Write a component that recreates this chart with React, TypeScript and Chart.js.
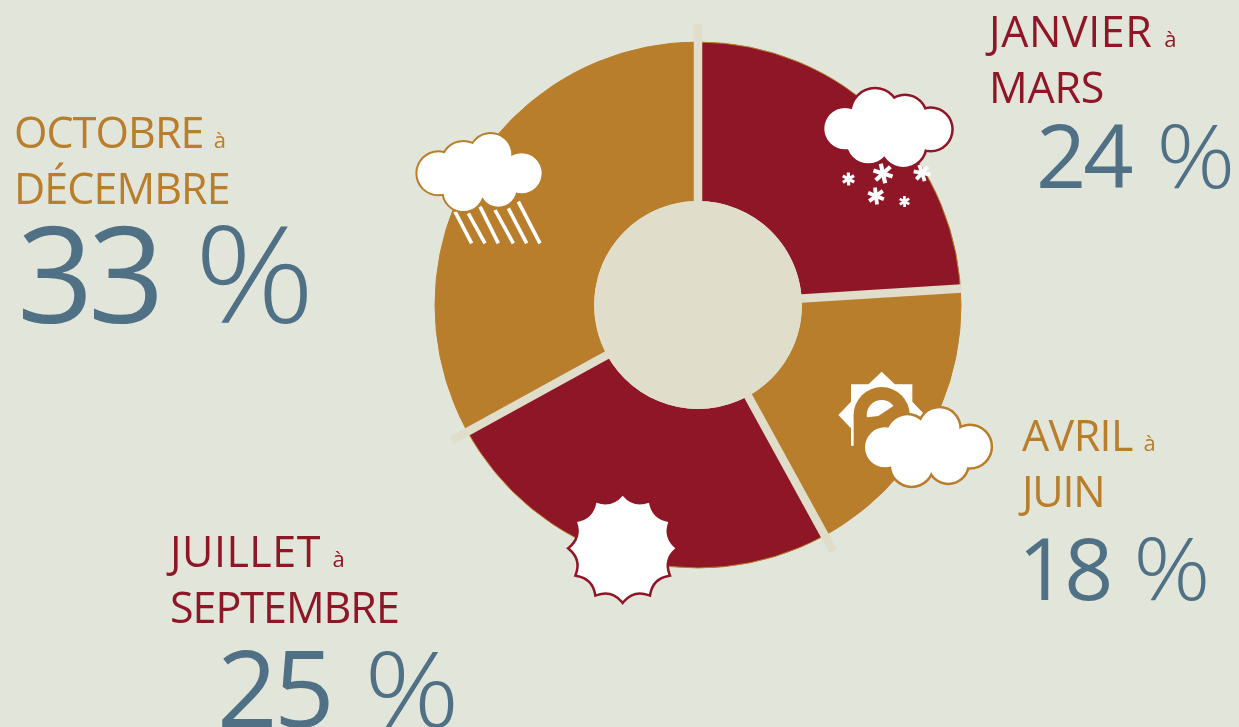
import React, { useEffect, useRef } from "react";
import { Chart, registerables } from "chart.js";

Chart.register(...registerables);

// Share of the year per quarter, clockwise from twelve o'clock
const periods = ["JANVIER à MARS", "AVRIL à JUIN", "JUILLET à SEPTEMBRE", "OCTOBRE à DÉCEMBRE"];
const shares = [24, 18, 25, 33];

const firstWords = ["JANVIER", "AVRIL", "JUILLET", "OCTOBRE"];
const secondWords = ["MARS", "JUIN", "SEPTEMBRE", "DÉCEMBRE"];

const RED = "#8f1626";
const GOLD = "#b87e2b";
const SLATE = "#4f7085";
const PAGE = "#e2e5da";
const CREAM = "#e0ddcb";

const sliceColors = [RED, GOLD, RED, GOLD];
const FONT = '"Open Sans", sans-serif';

// Label block placement per slice, in page pixels
const blocks = [
  { x: 989, y: 6, size: 43, color: RED, track: 0.6, track2: -0.2, pctX: 1036, pctY: 102, pctSize: 88, pctGap: -3, wordGap: 5 },
  { x: 1022, y: 410, size: 43, color: GOLD, track: -0.6, track2: -1.2, pctX: 1018, pctY: 515, pctSize: 86, pctGap: -3, wordGap: 3 },
  { x: 170, y: 526, size: 43, color: RED, track: 0.5, track2: -1, pctX: 217, pctY: 623, pctSize: 106, pctGap: -3.5, wordGap: 9 },
  { x: 14, y: 107, size: 43, color: GOLD, track: -0.9, track2: -0.9, pctX: 17, pctY: 191, pctSize: 134, pctGap: -5.5, wordGap: 5 },
];

type Ctx = CanvasRenderingContext2D;
type Lobe = [number, number, number];

// A cloud is a union of circles: an outer stroke first, white fill on top
function cloud(ctx: Ctx, ox: number, oy: number, lobes: Lobe[], edge: string, lw: number) {
  const trace = (extra: number) => {
    ctx.beginPath();
    for (const [x, y, r] of lobes) {
      const cx = ox + x / 3;
      const cy = oy + y / 3;
      ctx.moveTo(cx + r / 3 + extra, cy);
      ctx.arc(cx, cy, r / 3 + extra, 0, Math.PI * 2);
    }
  };
  ctx.fillStyle = edge;
  trace(lw);
  ctx.fill();
  ctx.fillStyle = "#fff";
  trace(0);
  ctx.fill();
}

function asterisk(ctx: Ctx, x: number, y: number, r: number, w: number, turn: number) {
  ctx.save();
  ctx.strokeStyle = "#fff";
  ctx.lineWidth = w;
  for (let i = 0; i < 3; i++) {
    const a = turn + (i * Math.PI) / 3;
    ctx.beginPath();
    ctx.moveTo(x - Math.cos(a) * r, y - Math.sin(a) * r);
    ctx.lineTo(x + Math.cos(a) * r, y + Math.sin(a) * r);
    ctx.stroke();
  }
  ctx.restore();
}

function drawSnow(ctx: Ctx) {
  cloud(ctx, 800, 70, [[135, 176, 62], [225, 128, 70], [315, 140, 62], [392, 178, 62], [205, 215, 65], [310, 225, 66], [265, 170, 80]], RED, 2.5);
  asterisk(ctx, 848.5, 179, 6.5, 3.2, 0.5);
  asterisk(ctx, 883, 173.5, 10, 4.2, 0.3);
  asterisk(ctx, 922, 173, 8.5, 3.8, 0.2);
  asterisk(ctx, 876, 196, 8.5, 3.8, 0.4);
  asterisk(ctx, 904.5, 201.5, 5.5, 2.8, 0.5);
}

function drawRain(ctx: Ctx) {
  const drops = [
    [165, 275, 215, 370],
    [205, 280, 255, 370],
    [240, 260, 295, 370],
    [285, 270, 340, 370],
    [325, 265, 380, 370],
    [355, 245, 420, 370],
  ];
  ctx.save();
  ctx.strokeStyle = "#fff";
  ctx.lineWidth = 3.6;
  for (const [a, b, c, d] of drops) {
    ctx.beginPath();
    ctx.moveTo(400 + a / 3, 120 + b / 3);
    ctx.lineTo(400 + c / 3, 120 + d / 3);
    ctx.stroke();
  }
  ctx.restore();
  cloud(ctx, 400, 120, [[115, 160, 63], [190, 130, 64], [272, 104, 62], [365, 160, 60], [190, 213, 60], [295, 205, 55], [260, 160, 70]], GOLD, 2);
}

function drawSunCloud(ctx: Ctx) {
  const cx = 820 + 185 / 3;
  const cy = 360 + 165 / 3;
  const half = 92 / 3;
  const tip = 130 / 3;
  ctx.fillStyle = "#fff";
  ctx.beginPath();
  ctx.moveTo(cx, cy - tip);
  ctx.lineTo(cx + half * 0.43, cy - half);
  ctx.lineTo(cx + half, cy - half);
  ctx.lineTo(cx + half, cy - half * 0.43);
  ctx.lineTo(cx + tip, cy);
  ctx.lineTo(cx + half, cy + half * 0.43);
  ctx.lineTo(cx + half, cy + half);
  ctx.lineTo(cx - half, cy + half);
  ctx.lineTo(cx - half, cy + half * 0.43);
  ctx.lineTo(cx - tip, cy);
  ctx.lineTo(cx - half, cy - half * 0.43);
  ctx.lineTo(cx - half, cy - half);
  ctx.lineTo(cx - half * 0.43, cy - half);
  ctx.closePath();
  ctx.fill();
  ctx.fillStyle = GOLD;
  ctx.beginPath();
  ctx.arc(cx, cy, 84 / 3, 0, Math.PI * 2);
  ctx.fill();
  ctx.fillRect(cx - 28, cy, 56, 36);
  ctx.fillStyle = "#fff";
  ctx.beginPath();
  ctx.arc(cx, cy, 45 / 3, 0, Math.PI * 2);
  ctx.fill();
  // The ring's lower band bites into the white core
  ctx.fillStyle = GOLD;
  ctx.beginPath();
  ctx.moveTo(820 + 130 / 3, 360 + 173 / 3);
  ctx.lineTo(820 + 175 / 3, 360 + 168 / 3);
  ctx.lineTo(820 + 228 / 3, 360 + 133 / 3);
  ctx.lineTo(820 + 240 / 3, 360 + 210 / 3);
  ctx.lineTo(820 + 130 / 3, 360 + 210 / 3);
  ctx.closePath();
  ctx.fill();
  cloud(ctx, 820, 360, [[195, 262, 60], [262, 228, 62], [358, 205, 60], [450, 260, 62], [275, 315, 62], [385, 310, 58], [330, 260, 75]], GOLD, 2.5);
}

function drawBurst(ctx: Ctx) {
  const cx = 555 + 203 / 3;
  const cy = 480 + 205 / 3;
  const tip = 158 / 3;
  const dip = 124 / 3;
  const n = 12;
  ctx.beginPath();
  for (let i = 0; i < n; i++) {
    const a = -Math.PI / 2 + (i * 2 * Math.PI) / n;
    const m = a + Math.PI / n;
    const b = a + (2 * Math.PI) / n;
    if (i === 0) ctx.moveTo(cx + Math.cos(a) * tip, cy + Math.sin(a) * tip);
    ctx.quadraticCurveTo(cx + Math.cos(m) * dip, cy + Math.sin(m) * dip, cx + Math.cos(b) * tip, cy + Math.sin(b) * tip);
  }
  ctx.closePath();
  ctx.strokeStyle = RED;
  ctx.lineWidth = 5;
  ctx.lineJoin = "miter";
  ctx.stroke();
  ctx.fillStyle = "#fff";
  ctx.fill();
}

// Separators run along each slice boundary and overshoot the rim; the hole sits on top
const ringDecor = {
  id: "ringDecor",
  afterDatasetsDraw(chart: any) {
    const ctx: Ctx = chart.ctx;
    const arcs = chart.getDatasetMeta(0).data;
    const { x, y, outerRadius, innerRadius } = arcs[0];
    ctx.save();
    ctx.strokeStyle = GOLD;
    ctx.lineWidth = 1;
    ctx.beginPath();
    ctx.arc(x, y, outerRadius, 0, Math.PI * 2);
    ctx.stroke();
    ctx.strokeStyle = CREAM;
    ctx.lineWidth = 8.5;
    arcs.forEach((arc: any, i: number) => {
      const a = arc.startAngle;
      const over = i === 1 ? 1 : 18;
      ctx.beginPath();
      ctx.moveTo(x + Math.cos(a) * (innerRadius - 4), y + Math.sin(a) * (innerRadius - 4));
      ctx.lineTo(x + Math.cos(a) * (outerRadius + over), y + Math.sin(a) * (outerRadius + over));
      ctx.stroke();
    });
    ctx.fillStyle = CREAM;
    ctx.beginPath();
    ctx.arc(x, y, innerRadius, 0, Math.PI * 2);
    ctx.fill();
    drawSnow(ctx);
    drawRain(ctx);
    drawSunCloud(ctx);
    drawBurst(ctx);
    ctx.restore();
  },
};

export default function App() {
  const ref = useRef<HTMLCanvasElement>(null);

  useEffect(() => {
    const chart = new Chart(ref.current!, {
      type: "doughnut",
      data: {
        labels: periods,
        datasets: [{ data: shares, backgroundColor: sliceColors, borderWidth: 0 }],
      },
      options: {
        responsive: false,
        animation: false,
        cutout: "39.5%",
        layout: { padding: { left: 435, right: 278, top: 42, bottom: 159 } },
        plugins: { legend: { display: false }, tooltip: { enabled: false } },
      },
      plugins: [ringDecor],
    });
    return () => chart.destroy();
  }, []);

  return (
    <div style={{ position: "fixed", left: 0, top: 0, width: 1239, height: 727, background: PAGE, overflow: "hidden", fontFamily: FONT }}>
      <canvas ref={ref} width={1239} height={727} style={{ position: "absolute", left: 0, top: 0 }} />
      {blocks.map((b, i) => (
        <React.Fragment key={i}>
          <div style={{ position: "absolute", left: b.x, top: b.y, fontSize: b.size, lineHeight: "50px", color: b.color, letterSpacing: b.track, whiteSpace: "nowrap" }}>
            {firstWords[i]} <span style={{ fontSize: 22, letterSpacing: 0 }}>à</span>
          </div>
          <div style={{ position: "absolute", left: b.x, top: b.y + 56, fontSize: b.size, lineHeight: "50px", color: b.color, letterSpacing: b.track2, whiteSpace: "nowrap" }}>
            {secondWords[i]}
          </div>
          <div style={{ position: "absolute", left: b.pctX, top: b.pctY, fontSize: b.pctSize, lineHeight: "1.2", color: SLATE, letterSpacing: b.pctGap, wordSpacing: b.wordGap, whiteSpace: "nowrap" }}>
            {shares[i]}{" "}
            <span style={{ display: "inline-block", fontWeight: 300, transform: "scaleX(1.12)", transformOrigin: "left center" }}>%</span>
          </div>
        </React.Fragment>
      ))}
    </div>
  );
}
